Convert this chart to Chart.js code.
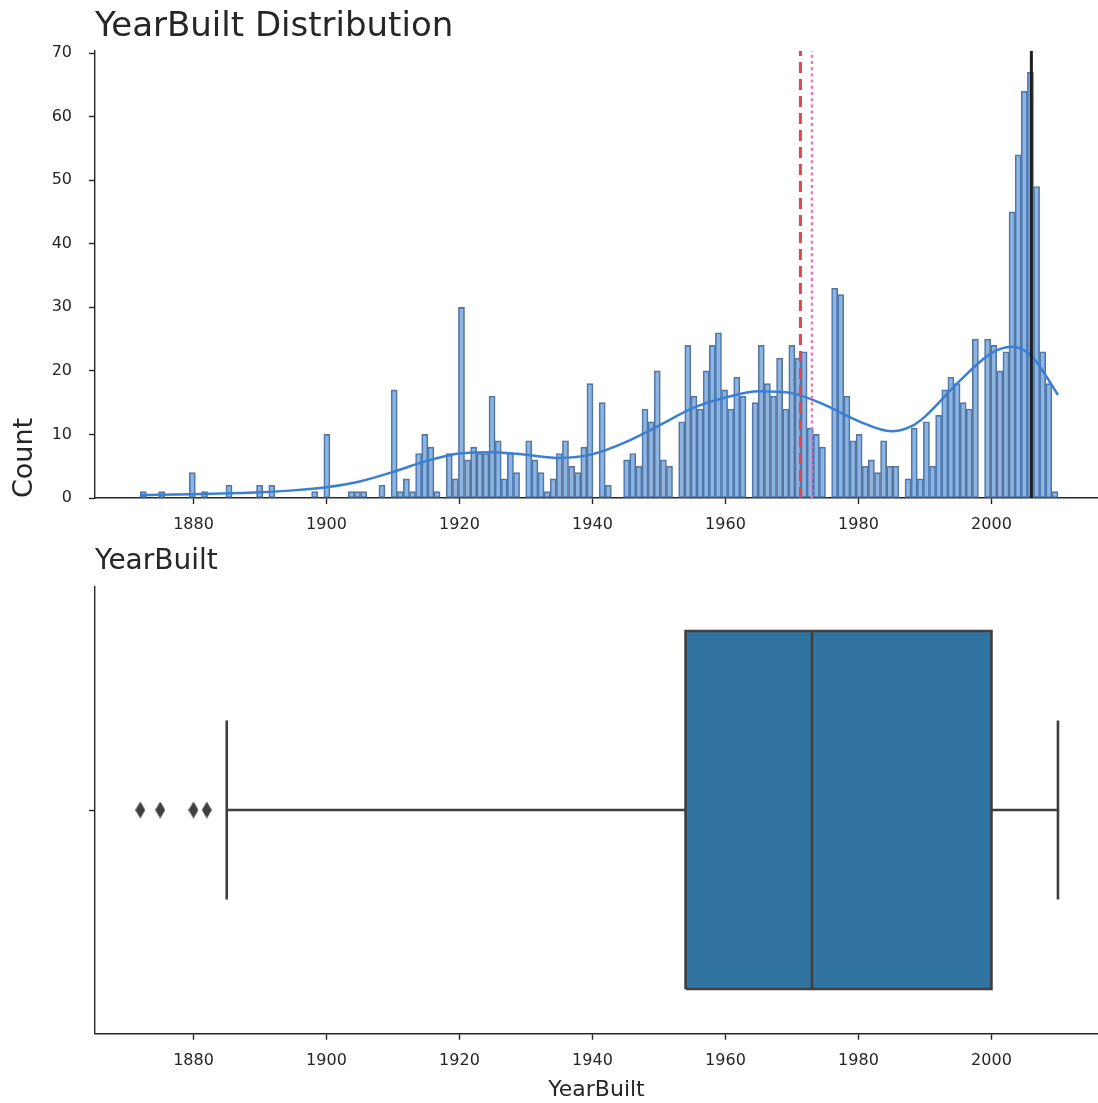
<!DOCTYPE html>
<html>
<head>
<meta charset="utf-8">
<title>YearBuilt Distribution</title>
<script src="https://cdn.jsdelivr.net/npm/chart.js@4.4.1/dist/chart.umd.min.js"></script>
<style>
  html, body { margin: 0; padding: 0; background: #ffffff; overflow: hidden; }
  canvas { position: absolute; left: 0; display: block; }
  #histCanvas { top: 0; }
  #boxCanvas { top: 545px; }
</style>
</head>
<body>
<canvas id="histCanvas" width="1098" height="545"></canvas>
<canvas id="boxCanvas" width="1098" height="558"></canvas>
<script>
// ---------------- data ----------------
// number of houses per construction year
const yearsBuilt = [
  1872, 1875, 1880, 1882, 1885, 1890, 1892, 1898,
  1900, 1904, 1905, 1906, 1908,
  1910, 1911, 1912, 1913, 1914, 1915, 1916, 1917, 1918, 1919,
  1920, 1921, 1922, 1923, 1924, 1925, 1926, 1927, 1928, 1929,
  1930, 1931, 1932, 1933, 1934, 1935, 1936, 1937, 1938, 1939,
  1940, 1941, 1942, 1945, 1946, 1947, 1948, 1949,
  1950, 1951, 1952, 1953, 1954, 1955, 1956, 1957, 1958, 1959,
  1960, 1961, 1962, 1963, 1964, 1965, 1966, 1967, 1968, 1969,
  1970, 1971, 1972, 1973, 1974, 1975, 1976, 1977, 1978, 1979,
  1980, 1981, 1982, 1983, 1984, 1985, 1986, 1987, 1988, 1989,
  1990, 1991, 1992, 1993, 1994, 1995, 1996, 1997, 1998, 1999,
  2000, 2001, 2002, 2003, 2004, 2005, 2006, 2007, 2008, 2009, 2010
];
const houseCounts = [
  1, 1, 4, 1, 2, 2, 2, 1,
  10, 1, 1, 1, 2,
  17, 1, 3, 1, 7, 10, 8, 1, 7, 3,
  30, 6, 8, 7, 7, 16, 9, 3, 7, 4,
  9, 6, 4, 1, 3, 7, 9, 5, 4, 8,
  18, 15, 2, 6, 7, 5, 14, 12,
  20, 6, 5, 12, 24, 16, 14, 20, 24, 26,
  17, 14, 19, 16, 15, 24, 18, 16, 22, 14,
  24, 22, 23, 11, 10, 8, 33, 32, 16, 9,
  10, 5, 6, 4, 9, 5, 5, 3, 11, 3,
  12, 5, 13, 17, 19, 18, 15, 14, 25, 25,
  24, 20, 23, 45, 54, 64, 67, 49, 23, 18, 1
];

// smoothed density curve, expressed in counts per bin
const kdeYears = [
  1872, 1880, 1890, 1895, 1900, 1905, 1910, 1915, 1920, 1925,
  1930, 1935, 1940, 1945, 1950, 1955, 1960, 1965, 1970, 1975,
  1980, 1985, 1988, 1990, 1995, 2000, 2003, 2006, 2008, 2010
];
const kdeCounts = [
  0.45, 0.6, 0.9, 1.2, 1.7, 2.6, 4.1, 5.8, 7.0, 7.2,
  6.8, 6.3, 6.9, 8.8, 11.4, 14.1, 15.8, 16.8, 16.5, 14.6,
  12.1, 10.5, 11.3, 12.8, 18.2, 22.8, 23.8, 22.4, 19.5, 16.2
];

const yearTicks = [1880, 1900, 1920, 1940, 1960, 1980, 2000];
const countTicks = [0, 10, 20, 30, 40, 50, 60, 70];

const mainTitle = 'YearBuilt Distribution';
const boxTitle = 'YearBuilt';
const countLabel = 'Count';
const yearLabel = 'YearBuilt';

// ---------------- styling ----------------
const FONT = "'DejaVu Sans', 'Liberation Sans', sans-serif";
const INK = '#262626';
const AXIS_W = 1.4;
const TICK_FONT = 16;
const BAR_FILL = 'rgba(60,125,205,0.58)';
const BAR_EDGE = '#5a7699';
const KDE_BLUE = '#3a7fd5';
const BOX_BLUE = '#3274a1';
const BOX_GRAY = '#3f3f3f';

const YEAR_AXIS_MIN = 1865.19;
const YEAR_AXIS_MAX = 2016.02;
const COUNT_AXIS_MAX = 70.35;
const BIN_COUNT = 150;
const BOX_HALF = 0.4;   // half of the box thickness in category units
const CAP_HALF = 0.2;   // half of the whisker cap length

Chart.defaults.font.family = FONT;
Chart.defaults.color = INK;

// ---------------- derived series ----------------
const firstYear = Math.min(...yearsBuilt);
const lastYear = Math.max(...yearsBuilt);
const binWidth = (lastYear - firstYear) / BIN_COUNT;
const binTotals = new Array(BIN_COUNT).fill(0);
yearsBuilt.forEach((yr, i) => {
  let k = Math.floor((yr - firstYear) / binWidth + 1e-9);
  if (k >= BIN_COUNT) k = BIN_COUNT - 1;
  binTotals[k] += houseCounts[i];
});
const binPoints = binTotals.map((n, k) => ({ x: firstYear + binWidth * (k + 0.5), y: n }));

const allYears = [];
yearsBuilt.forEach((yr, i) => { for (let j = 0; j < houseCounts[i]; j++) allYears.push(yr); });
allYears.sort((a, b) => a - b);
function quantile(p) {
  const pos = p * (allYears.length - 1);
  const lo = Math.floor(pos), hi = Math.ceil(pos);
  return allYears[lo] + (allYears[hi] - allYears[lo]) * (pos - lo);
}
const meanYear = allYears.reduce((s, v) => s + v, 0) / allYears.length;
const medianYear = quantile(0.5);
const modeYear = yearsBuilt[houseCounts.indexOf(Math.max(...houseCounts))];
const q1 = quantile(0.25);
const q3 = quantile(0.75);
const iqr = q3 - q1;
const whiskerLo = allYears.find(v => v >= q1 - 1.5 * iqr);
const whiskerHi = allYears.slice().reverse().find(v => v <= q3 + 1.5 * iqr);
const outlierYears = yearsBuilt.filter(v => v < whiskerLo || v > whiskerHi);

// ---------------- helpers ----------------
const panelTitle = {
  id: 'panelTitle',
  afterDraw(chart, args, opts) {
    const { ctx, chartArea } = chart;
    ctx.save();
    ctx.font = opts.size + 'px ' + FONT;
    ctx.fillStyle = INK;
    ctx.textAlign = 'left';
    ctx.textBaseline = 'alphabetic';
    ctx.fillText(opts.text, chartArea.left, chartArea.top - opts.gap);
    ctx.restore();
  }
};

function tickGrid() {
  return { display: true, drawOnChartArea: false, drawTicks: true, tickLength: 6,
           tickWidth: AXIS_W, tickColor: INK, offset: false };
}

function yearAxis(axisHeight, title) {
  return {
    type: 'linear', min: YEAR_AXIS_MIN, max: YEAR_AXIS_MAX, offset: false, z: 1,
    grid: tickGrid(),
    border: { display: true, color: INK, width: AXIS_W },
    ticks: { font: { size: TICK_FONT }, color: INK, padding: 11, maxRotation: 0, autoSkip: false,
             callback: v => String(v) },
    afterBuildTicks: s => { s.ticks = yearTicks.map(v => ({ value: v })); },
    afterFit: s => { s.height = axisHeight; },
    title: title
  };
}

function vline(x, color, width, dash, order) {
  return {
    type: 'line', data: [{ x: x, y: 0 }, { x: x, y: COUNT_AXIS_MAX }],
    borderColor: color, borderWidth: width, borderDash: dash, borderCapStyle: 'butt',
    pointRadius: 0, fill: false, order: order
  };
}

function segment(points, color, width, order) {
  return { type: 'line', data: points, borderColor: color, borderWidth: width,
           pointRadius: 0, fill: false, order: order, borderCapStyle: 'butt' };
}

function diamondMarker(w, h, color) {
  const c = document.createElement('canvas');
  c.width = w; c.height = h;
  const g = c.getContext('2d');
  g.fillStyle = color;
  g.beginPath();
  g.moveTo(w / 2, 0); g.lineTo(w, h / 2); g.lineTo(w / 2, h); g.lineTo(0, h / 2);
  g.closePath(); g.fill();
  return c;
}

// ---------------- histogram ----------------
new Chart(document.getElementById('histCanvas'), {
  type: 'bar',
  data: {
    datasets: [
      { type: 'bar', label: 'count', data: binPoints, backgroundColor: BAR_FILL,
        borderColor: BAR_EDGE, borderWidth: 1, borderSkipped: false,
        barPercentage: 1, categoryPercentage: 1, grouped: false, order: 6 },
      { type: 'line', label: 'kde', data: kdeYears.map((x, i) => ({ x: x, y: kdeCounts[i] })),
        borderColor: KDE_BLUE, borderWidth: 2.5, pointRadius: 0, fill: false,
        cubicInterpolationMode: 'monotone', order: 5 },
      vline(meanYear, '#e8434c', 3, [11, 6], 3),
      vline(medianYear, '#e377c2', 2.4, [3, 3.2], 2),
      vline(modeYear, '#1e1e1e', 3, [], 1)
    ]
  },
  options: {
    responsive: false, animation: false,
    layout: { autoPadding: false, padding: { top: 50.8, left: 0, right: 0, bottom: 0 } },
    plugins: { legend: { display: false }, tooltip: { enabled: false },
               panelTitle: { text: mainTitle, size: 34, gap: 15 } },
    scales: {
      x: yearAxis(47, { display: false }),
      y: {
        type: 'linear', min: 0, max: COUNT_AXIS_MAX, z: 1,
        grid: tickGrid(),
        border: { display: true, color: INK, width: AXIS_W },
        ticks: { font: { size: TICK_FONT }, color: INK, padding: 17, callback: v => String(v) },
        afterBuildTicks: s => { s.ticks = countTicks.map(v => ({ value: v })); },
        afterFit: s => { s.width = 95; },
        title: { display: true, text: countLabel, align: 'start', color: INK,
                 font: { size: 27 }, padding: { top: 9, bottom: 0 } }
      }
    }
  },
  plugins: [panelTitle]
});

// ---------------- box plot ----------------
new Chart(document.getElementById('boxCanvas'), {
  type: 'line',
  data: {
    datasets: [
      { data: [{ x: q1, y: -BOX_HALF }, { x: q3, y: -BOX_HALF }], borderColor: 'rgba(0,0,0,0)',
        borderWidth: 1, pointRadius: 0, fill: false, order: 9 },
      { data: [{ x: q1, y: BOX_HALF }, { x: q3, y: BOX_HALF }], borderColor: 'rgba(0,0,0,0)',
        borderWidth: 1, pointRadius: 0, fill: '-1', backgroundColor: BOX_BLUE, order: 8 },
      segment([{ x: q1, y: -BOX_HALF }, { x: q3, y: -BOX_HALF }, { x: q3, y: BOX_HALF },
               { x: q1, y: BOX_HALF }, { x: q1, y: -BOX_HALF }], BOX_GRAY, 2.6, 5),
      segment([{ x: medianYear, y: -BOX_HALF }, { x: medianYear, y: BOX_HALF }], BOX_GRAY, 2.6, 4),
      segment([{ x: whiskerLo, y: 0 }, { x: q1, y: 0 }], BOX_GRAY, 2.6, 4),
      segment([{ x: q3, y: 0 }, { x: whiskerHi, y: 0 }], BOX_GRAY, 2.6, 4),
      segment([{ x: whiskerLo, y: -CAP_HALF }, { x: whiskerLo, y: CAP_HALF }], BOX_GRAY, 2.6, 4),
      segment([{ x: whiskerHi, y: -CAP_HALF }, { x: whiskerHi, y: CAP_HALF }], BOX_GRAY, 2.6, 4),
      { data: outlierYears.map(v => ({ x: v, y: 0 })), showLine: false,
        pointStyle: diamondMarker(10, 17, BOX_GRAY), pointRadius: 5, order: 1 }
    ]
  },
  options: {
    responsive: false, animation: false,
    layout: { autoPadding: false, padding: { top: 41.25, left: 0, right: 0, bottom: 0 } },
    plugins: { legend: { display: false }, tooltip: { enabled: false },
               panelTitle: { text: boxTitle, size: 28, gap: 17 } },
    scales: {
      x: yearAxis(69.25, { display: true, text: yearLabel, color: INK, font: { size: 22 },
                           padding: { top: 0, bottom: 0 } }),
      y: {
        type: 'linear', min: -0.5, max: 0.5, z: 1,
        grid: tickGrid(),
        border: { display: true, color: INK, width: AXIS_W },
        ticks: { callback: () => '' },
        afterBuildTicks: s => { s.ticks = [{ value: 0 }]; },
        afterFit: s => { s.width = 95; }
      }
    }
  },
  plugins: [panelTitle]
});
</script>
</body>
</html>
